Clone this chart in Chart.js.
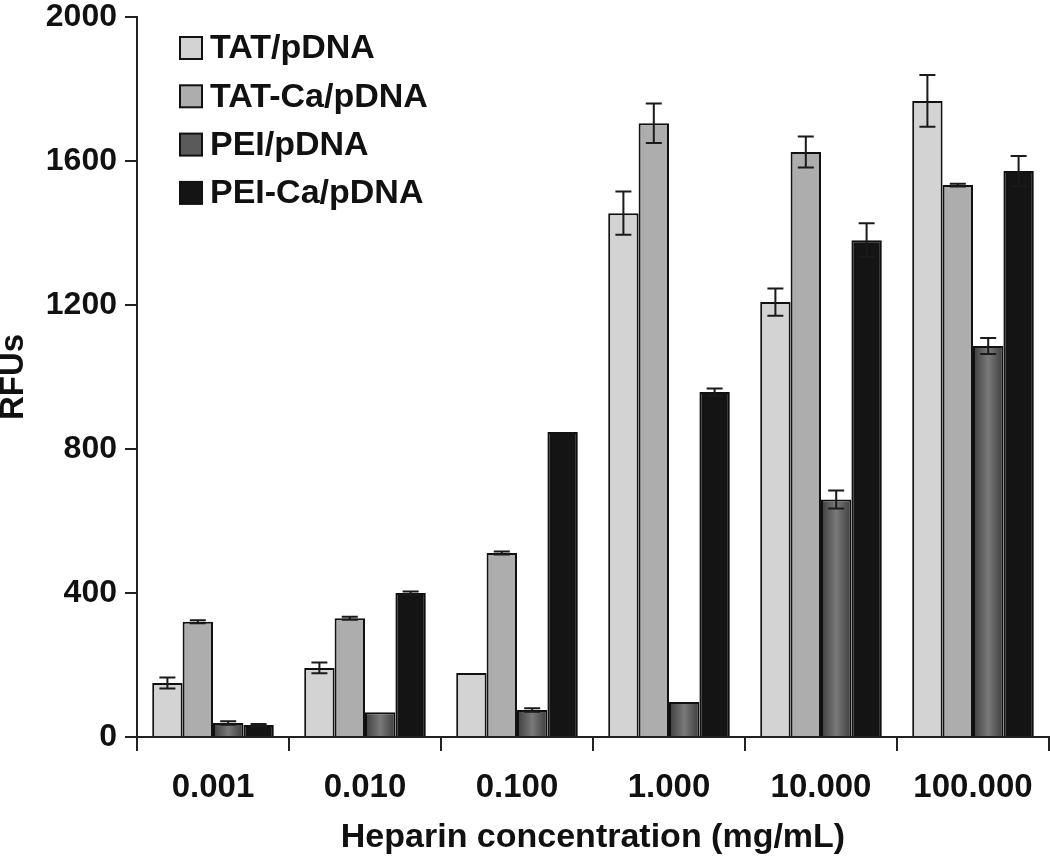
<!DOCTYPE html>
<html>
<head>
<meta charset="utf-8">
<script src="https://cdn.jsdelivr.net/npm/chart.js@4"></script>
<style>
  body { margin: 0; background: #fff; }
  #wrap { width: 1050px; height: 859px; }
</style>
</head>
<body>
<div id="wrap"><canvas id="myChart"></canvas></div>
<script>
const labels = ['0.001', '0.010', '0.100', '1.000', '10.000', '100.000'];

const tatValues   = [150, 192, 178, 1455, 1208, 1767];
const tatCaValues = [320, 330, 511, 1705, 1625, 1533];
const peiValues   = [39, 69, 75, 97, 660, 1086];
const peiCaValues = [33, 400, 847, 958, 1380, 1572];

const tatErr   = [15, 15, 0, 60, 38, 72];
const tatCaErr = [4, 4, 4, 55, 43, 4];
const peiErr   = [5, 0, 5, 0, 25, 22];
const peiCaErr = [3, 4, 0, 10, 47, 42];

const fontFam = '"Liberation Sans", Arial, sans-serif';

// gradient fill for the PEI bars (dark edges, lighter centre)
const peiFill = (c) => {
  const chart = c.chart;
  const xs = chart.scales.x;
  if (!xs || !chart.chartArea || c.dataIndex === undefined) return '#555555';
  const catW = xs.width / labels.length;
  const barW = catW * 0.8 / 4;
  const cx = xs.getPixelForValue(c.dataIndex) + barW * 0.5;
  const g = chart.ctx.createLinearGradient(cx - barW / 2, 0, cx + barW / 2, 0);
  g.addColorStop(0, '#3c3c3c');
  g.addColorStop(0.5, '#7a7a7a');
  g.addColorStop(1, '#3c3c3c');
  return g;
};

const errorBars = {
  id: 'errorBars',
  afterDatasetsDraw(chart) {
    const ctx = chart.ctx;
    const y = chart.scales.y;
    ctx.save();
    ctx.strokeStyle = '#1a1a1a';
    ctx.lineWidth = 2;
    chart.data.datasets.forEach((ds, i) => {
      const meta = chart.getDatasetMeta(i);
      meta.data.forEach((bar, j) => {
        const e = ds.errors[j];
        if (!e) return;
        const top = y.getPixelForValue(ds.data[j] + e);
        const bot = y.getPixelForValue(ds.data[j] - e);
        ctx.beginPath();
        ctx.moveTo(bar.x, top); ctx.lineTo(bar.x, bot);
        ctx.moveTo(bar.x - 8, top); ctx.lineTo(bar.x + 8, top);
        ctx.moveTo(bar.x - 8, bot); ctx.lineTo(bar.x + 8, bot);
        ctx.stroke();
      });
    });
    ctx.restore();
  }
};

const insideLegend = {
  id: 'insideLegend',
  afterDraw(chart) {
    const ctx = chart.ctx;
    const left = 180, top = 37, step = 48.3, box = 22;
    ctx.save();
    ctx.font = 'bold 34px ' + fontFam;
    ctx.textBaseline = 'middle';
    chart.data.datasets.forEach((ds, i) => {
      const yy = top + i * step;
      ctx.fillStyle = ds.legendColor;
      ctx.fillRect(left, yy, box, box);
      ctx.strokeStyle = '#111';
      ctx.lineWidth = 2;
      ctx.strokeRect(left, yy, box, box);
      ctx.fillStyle = '#111';
      ctx.fillText(ds.label, left + box + 8, yy + box / 2 + 1);
    });
    ctx.restore();
  }
};

new Chart(document.getElementById('myChart'), {
  type: 'bar',
  data: {
    labels: labels,
    datasets: [
      { label: 'TAT/pDNA', data: tatValues, errors: tatErr, backgroundColor: '#d3d3d3', legendColor: '#d3d3d3' },
      { label: 'TAT-Ca/pDNA', data: tatCaValues, errors: tatCaErr, backgroundColor: '#adadad', legendColor: '#adadad' },
      { label: 'PEI/pDNA', data: peiValues, errors: peiErr, backgroundColor: peiFill, legendColor: '#5a5a5a' },
      { label: 'PEI-Ca/pDNA', data: peiCaValues, errors: peiCaErr, backgroundColor: '#141414', legendColor: '#141414' }
    ].map(d => Object.assign(d, {
      borderColor: '#111',
      borderWidth: 2,
      categoryPercentage: 0.8,
      barPercentage: 1.0
    }))
  },
  options: {
    responsive: true,
    maintainAspectRatio: false,
    animation: false,
    layout: { padding: { top: 17, right: 1, left: 0, bottom: 0 } },
    plugins: {
      legend: { display: false },
      tooltip: { enabled: false }
    },
    scales: {
      x: {
        afterFit: (s) => { s.height = 122; },
        border: { display: true, color: '#222', width: 2 },
        grid: {
          offset: true,
          drawOnChartArea: false,
          drawTicks: true,
          tickLength: 14,
          color: '#222',
          lineWidth: 2
        },
        ticks: {
          color: '#111',
          padding: 17,
          font: { family: fontFam, size: 33, weight: 'bold' }
        },
        title: {
          display: true,
          text: 'Heparin concentration (mg/mL)',
          color: '#111',
          padding: { top: 0, bottom: 1 },
          font: { family: fontFam, size: 34, weight: 'bold' }
        }
      },
      y: {
        min: 0,
        max: 2000,
        afterFit: (s) => { s.width = 137; s.paddingTop = 0; s.paddingBottom = 0; },
        border: { display: true, color: '#222', width: 2 },
        grid: {
          drawOnChartArea: false,
          drawTicks: true,
          tickLength: 12,
          color: '#222',
          lineWidth: 2
        },
        ticks: {
          stepSize: 400,
          color: '#111',
          padding: 8,
          callback: (v) => String(v),
          font: { family: fontFam, size: 32, weight: 'bold', lineHeight: 1.05 }
        },
        title: {
          display: true,
          text: 'RFUs',
          color: '#111',
          padding: { top: 0, bottom: 0 },
          font: { family: fontFam, size: 33, weight: 'bold', lineHeight: 0.85 }
        }
      }
    }
  },
  plugins: [errorBars, insideLegend]
});
</script>
</body>
</html>
